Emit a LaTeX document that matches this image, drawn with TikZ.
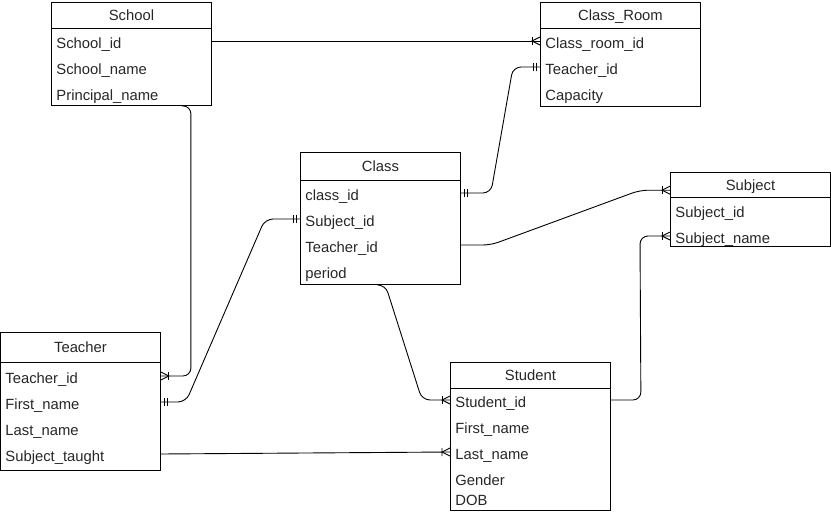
\documentclass[tikz,border=0pt]{standalone}
\usepackage{fontspec}
\setmainfont{Liberation Sans}
\usetikzlibrary{calc, decorations.markings}

\tikzset{
  box/.style={draw, anchor=north west, minimum width=160pt, inner sep=0pt},
  head/.style={draw, anchor=north, minimum width=160pt, inner sep=0pt,
    text height=10.5pt, text depth=0pt},
  row/.style={anchor=west, text width=150pt, inner xsep=5pt, inner ysep=0pt,
    align=left, text height=15pt, text depth=0pt},
  % crow's foot (one or many) at the end of a connector
  many end/.style={postaction={decorate, decoration={markings,
    mark=at position 1 with {\draw[sharp corners] (0pt,4pt) -- (-8pt,0pt) -- (0pt,-4pt);
      \draw (-8pt,4pt) -- (-8pt,-4pt);}}}},
  % exactly one, at either end
  one end/.style={postaction={decorate, decoration={markings,
    mark=at position 1 with {\draw (-4pt,4pt) -- (-4pt,-4pt);
      \draw (-7pt,4pt) -- (-7pt,-4pt);}}}},
  one start/.style={postaction={decorate, decoration={markings,
    mark=at position 0 with {\draw (4pt,4pt) -- (4pt,-4pt);
      \draw (7pt,4pt) -- (7pt,-4pt);}}}},
}

\begin{document}
\begin{tikzpicture}[x=1pt, y=-1pt, line width=0.9pt,
    font=\fontsize{14.8}{17}\selectfont,
    every node/.append style={text=black!85}]
    \useasboundingbox (0,0) rectangle (831,514);

    % School
    \node[box, minimum height=103pt] (school) at (51,2) {};
    \node[head, minimum height=26pt] (sch-head) at (school.north) {School};
    \node[row] (sch-id) at (51,41) {School\_id};
    \node[row] (sch-name) at (51,67) {School\_name};
    \node[row] (sch-prin) at (51,93) {Principal\_name};

    % Class_Room
    \node[box, minimum height=104pt] (croom) at (540,2) {};
    \node[head, minimum height=26pt] (cr-head) at (croom.north) {Class\_Room};
    \node[row] (cr-id) at (540,41) {Class\_room\_id};
    \node[row] (cr-tid) at (540,67) {Teacher\_id};
    \node[row] (cr-cap) at (540,93) {Capacity};

    % Class
    \node[box, minimum height=132pt] (class) at (300,152) {};
    \node[head, minimum height=28pt] (c-head) at (class.north) {Class};
    \node[row] (c-id) at (300,193) {class\_id};
    \node[row] (c-sid) at (300,219) {Subject\_id};
    \node[row] (c-tid) at (300,245) {Teacher\_id};
    \node[row] (c-per) at (300,271) {period};

    % Subject
    \node[box, minimum height=74pt] (subject) at (670,172) {};
    \node[head, minimum height=25pt] (sub-head) at (subject.north) {Subject};
    \node[row] (sub-id) at (670,210) {Subject\_id};
    \node[row] (sub-name) at (670,236) {Subject\_name};

    % Teacher
    \node[box, minimum height=138pt] (teacher) at (0,332) {};
    \node[head, minimum height=30pt] (t-head) at (teacher.north) {Teacher};
    \node[row] (t-id) at (0,376) {Teacher\_id};
    \node[row] (t-first) at (0,402) {First\_name};
    \node[row] (t-last) at (0,428) {Last\_name};
    \node[row] (t-subj) at (0,454) {Subject\_taught};

    % Student
    \node[box, minimum height=148pt] (student) at (450,362) {};
    \node[head, minimum height=26pt] (st-head) at (student.north) {Student};
    \node[row] (st-id) at (450,400) {Student\_id};
    \node[row] (st-first) at (450,426) {First\_name};
    \node[row] (st-last) at (450,452) {Last\_name};
    \node[row] (st-gen) at (450,477.5) {Gender};
    \node[row] (st-dob) at (450,497.5) {DOB};

    % Relations
    \draw[many end] (sch-id.east) -- (cr-id.west);
    \coordinate (sch-out) at ([xshift=-21pt]school.south east);
    \draw[rounded corners=8pt, many end] ([xshift=-30pt]school.south east) -- (sch-out)
        -- (sch-out |- t-id.east) -- (t-id.east);
    \draw[rounded corners=8pt, one start, one end] (cr-tid.west) -- ++(-27,0)
        -- ($(c-id.east)+(30,0)$) -- (c-id.east);
    \draw[rounded corners=8pt, one start, one end] (t-first.east) -- ++(25,0)
        -- ($(c-sid.west)+(-35,0)$) -- (c-sid.west);
    \draw[rounded corners=8pt, many end] (c-tid.east) -- ++(30,0)
        -- ($(sub-head.base west)+(-30,0)$) -- (sub-head.base west);
    \draw[rounded corners=8pt, many end] (class.south) -- ++(5,0)
        -- ($(st-id.west)+(-28,0)$) -- (st-id.west);
    \draw[rounded corners=8pt, many end] (st-id.east) -- ++(30,0)
        -- ($(sub-name.west)+(-30,0)$) -- (sub-name.west);
    \draw[many end] (t-subj.east) -- (st-last.west);
\end{tikzpicture}
\end{document}
